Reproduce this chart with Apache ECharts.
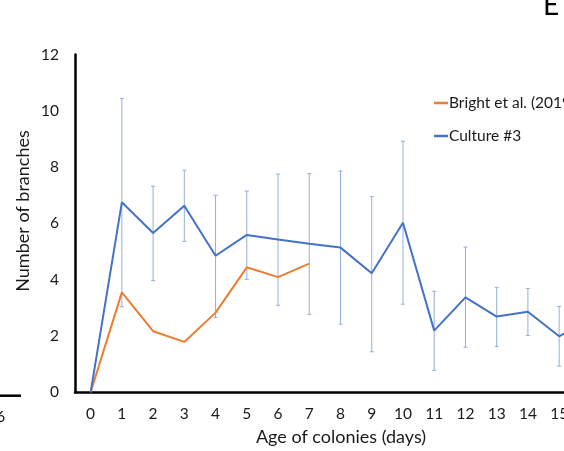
<!DOCTYPE html>
<html>
<head>
<meta charset="utf-8">
<script src="https://cdn.jsdelivr.net/npm/echarts@6/dist/echarts.min.js"></script>
<style>html,body{margin:0;padding:0;background:#fff}#c{width:564px;height:451px}</style>
</head>
<body>
<div id="c"></div>
<script>
var days = ['0','1','2','3','4','5','6','7','8','9','10','11','12','13','14','15','16'];
var culture3 = [0, 6.75, 5.66, 6.63, 4.85, 5.59, 5.43, 5.28, 5.14, 4.23, 6.02, 2.19, 3.37, 2.69, 2.86, 1.99, 2.6];
var bright2019 = [0, 3.55, 2.17, 1.79, 2.83, 4.44, 4.09, 4.57];
var errLow  = [null, 3.04, 3.97, 5.36, 2.65, 4.01, 3.09, 2.77, 2.42, 1.44, 3.13, 0.78, 1.60, 1.63, 2.02, 0.93, null];
var errHigh = [null, 10.44, 7.32, 7.89, 7.00, 7.15, 7.75, 7.77, 7.86, 6.95, 8.92, 3.59, 5.16, 3.73, 3.69, 3.05, null];
var yTicks = [0, 2, 4, 6, 8, 10, 12];

var errData = [];
for (var i = 0; i < days.length; i++) {
  if (errLow[i] != null && errHigh[i] != null) errData.push([i, errLow[i], errHigh[i]]);
}

var FONT = 'Lato';
var TXT = '#1a1a1a';
var chart = echarts.init(document.getElementById('c'), null, {renderer: 'canvas'});
chart.setOption({
  animation: false,
  backgroundColor: '#ffffff',
  grid: {left: 75, width: 531, top: 54.5, height: 337.8, containLabel: false, outerBoundsMode: 'none'},
  legend: {
    orient: 'vertical',
    left: 429, top: 90,
    itemWidth: 14, itemHeight: 2.5, itemGap: 17,
    icon: 'rect',
    data: ['Bright et al. (2019)', 'Culture #3'],
    textStyle: {fontFamily: FONT, fontSize: 15.5, color: TXT, padding: [0,0,0,-4]}
  },
  xAxis: {
    type: 'category',
    data: days,
    boundaryGap: true,
    axisLine: {lineStyle: {color: '#000', width: 2.5}},
    axisTick: {show: false},
    axisLabel: {fontFamily: FONT, fontSize: 15.5, color: TXT, margin: 14, interval: 0},
    splitLine: {show: false}
  },
  yAxis: {
    type: 'value',
    min: 0, max: 12, interval: 2,
    axisLine: {show: true, lineStyle: {color: '#000', width: 2.5}},
    axisTick: {show: false},
    axisLabel: {fontFamily: FONT, fontSize: 15.5, color: TXT, margin: 16,
      formatter: function (v) { return yTicks.indexOf(v) >= 0 ? String(v) : ''; }},
    splitLine: {show: false}
  },
  graphic: [
    {type: 'text', x: 23, y: 211, rotation: Math.PI / 2,
      style: {text: 'Number of branches', font: '18px ' + FONT, fill: TXT, align: 'center', verticalAlign: 'middle'}},
    {type: 'text', x: 341, y: 437,
      style: {text: 'Age of colonies (days)', font: '18px ' + FONT, fill: TXT, align: 'center', verticalAlign: 'middle'}},
    {type: 'text', x: 543, y: -8,
      style: {text: 'E', font: '28px ' + FONT, fill: '#000', align: 'left', verticalAlign: 'top'}},
    {type: 'line', shape: {x1: 0, y1: 395.7, x2: 21, y2: 395.7}, style: {stroke: '#000', lineWidth: 2.5}},
    {type: 'text', x: -4, y: 417,
      style: {text: '6', font: '16px ' + FONT, fill: TXT, align: 'left', verticalAlign: 'middle'}}
  ],
  series: [
    {
      type: 'custom',
      name: 'err',
      z: 1,
      data: errData,
      renderItem: function (params, api) {
        var x = api.value(0), lo = api.value(1), hi = api.value(2);
        var pLo = api.coord([x, lo]), pHi = api.coord([x, hi]);
        var w = 2;
        var st = {stroke: '#94AEDD', lineWidth: 1};
        return {type: 'group', children: [
          {type: 'line', shape: {x1: pLo[0], y1: pLo[1], x2: pHi[0], y2: pHi[1]}, style: st},
          {type: 'line', shape: {x1: pHi[0] - w, y1: pHi[1], x2: pHi[0] + w, y2: pHi[1]}, style: st},
          {type: 'line', shape: {x1: pLo[0] - w, y1: pLo[1], x2: pLo[0] + w, y2: pLo[1]}, style: st}
        ]};
      }
    },
    {
      type: 'line', name: 'Bright et al. (2019)', data: bright2019,
      symbol: 'none', z: 3,
      lineStyle: {color: '#ED7D31', width: 2}, itemStyle: {color: '#ED7D31'}
    },
    {
      type: 'line', name: 'Culture #3', data: culture3,
      symbol: 'none', z: 4,
      lineStyle: {color: '#4472C4', width: 2}, itemStyle: {color: '#4472C4'}
    }
  ]
});
</script>
</body>
</html>
